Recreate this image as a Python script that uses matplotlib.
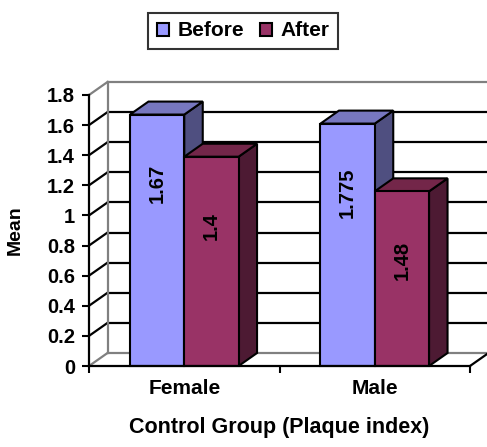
import matplotlib
matplotlib.use("Agg")
import matplotlib.pyplot as plt
from matplotlib.patches import Polygon, Rectangle

plt.rcParams['font.family'] = ['Liberation Sans', 'DejaVu Sans']
plt.rcParams['font.weight'] = 'bold'

categories = ['Female', 'Male']
series = ['Before', 'After']
before = [1.67, 1.61]
after = [1.39, 1.16]
bar_labels = [['1.67', '1.775'], ['1.4', '1.48']]
yticks = [0, 0.2, 0.4, 0.6, 0.8, 1.0, 1.2, 1.4, 1.6, 1.8]
ytick_labels = ['0', '0.2', '0.4', '0.6', '0.8', '1', '1.2', '1.4', '1.6', '1.8']

front_colors = ['#9999FF', '#993366']
top_colors = ['#7777BF', '#732649']
side_colors = ['#4F4F80', '#4D1A33']

W, H = 487, 447
fig = plt.figure(figsize=(W / 100, H / 100), dpi=100)
ax_l, ax_r, ax_b, ax_t = 89, 470, 366, 95
ax = fig.add_axes([ax_l / W, (H - ax_b) / H, (ax_r - ax_l) / W, (ax_b - ax_t) / H])
ax.set_xlim(0, 2)
ax.set_ylim(0, 1.8)

# depth of the 3d effect, in data units
dx = 18.5 / (ax_r - ax_l) * 2
dy = 13 / (ax_b - ax_t) * 1.8

# back wall grid
for v in yticks:
    col = '#808080' if v in (0, 1.8) else 'black'
    ax.plot([dx, 2 + dx], [v + dy, v + dy], color=col, lw=1.6, clip_on=False, zorder=1)
    ax.plot([0, dx], [v, v + dy], color=col, lw=1.6, clip_on=False, zorder=1)
ax.plot([dx, dx], [dy, 1.8 + dy], color='#808080', lw=1.6, clip_on=False, zorder=1)
# floor right edge
ax.plot([2, 2 + dx], [0, dy], color='black', lw=1.6, clip_on=False, zorder=1)

width = 0.285
for i, cat in enumerate(categories):
    vals = [before[i], after[i]]
    for j in range(2):
        x0 = i + 0.5 - width + j * width
        x1 = x0 + width
        h = vals[j]
        z = 3 + j
        ax.add_patch(Polygon([(x1, 0), (x1 + dx, dy), (x1 + dx, h + dy), (x1, h)],
                             closed=True, fc=side_colors[j], ec='black', lw=1.5, zorder=z, clip_on=False))
        ax.add_patch(Polygon([(x0, h), (x1, h), (x1 + dx, h + dy), (x0 + dx, h + dy)],
                             closed=True, fc=top_colors[j], ec='black', lw=1.5, zorder=z, clip_on=False))
        ax.add_patch(Rectangle((x0, 0), width, h, fc=front_colors[j], ec='black', lw=1.5,
                               zorder=z, clip_on=False))
        ax.text((x0 + x1) / 2, h - 0.46, bar_labels[j][i], rotation=90, ha='center', va='center',
                fontsize=14.5, fontweight='bold', zorder=10)

for s in ['top', 'right']:
    ax.spines[s].set_visible(False)
for s in ['left', 'bottom']:
    ax.spines[s].set_linewidth(1.6)
    ax.spines[s].set_zorder(6)

ax.set_yticks(yticks)
ax.set_yticklabels(ytick_labels, fontsize=14.5, fontweight='bold')
ax.set_xticks([0, 1, 2])
ax.set_xticklabels(['', '', ''])
ax.set_xticks([0.5, 1.5], minor=True)
ax.set_xticklabels(categories, minor=True, fontsize=15, fontweight='bold')
ax.tick_params(axis='y', direction='out', length=5, width=1.5, pad=5)
ax.tick_params(axis='x', which='major', direction='out', length=5, width=1.5)
ax.tick_params(axis='x', which='minor', length=0, pad=9)

ax.set_ylabel('Mean', fontsize=14, fontweight='bold', labelpad=17)
ax.set_xlabel('Control Group (Plaque index)', fontsize=15.5, fontweight='bold', labelpad=14)

handles = [Rectangle((0, 0), 1, 1, fc=front_colors[k], ec='black', lw=1.5) for k in range(2)]
leg = fig.legend(handles, series, loc='center', bbox_to_anchor=(243 / W, 1 - 31 / H),
                 ncol=2, frameon=True, fancybox=False, edgecolor='black',
                 prop={'size': 15, 'weight': 'bold'}, handlelength=0.6, handleheight=0.6,
                 handletextpad=0.4, columnspacing=0.75, borderpad=0.42, borderaxespad=0)
leg.get_frame().set_linewidth(1.5)

fig.savefig('out.png', dpi=100)
